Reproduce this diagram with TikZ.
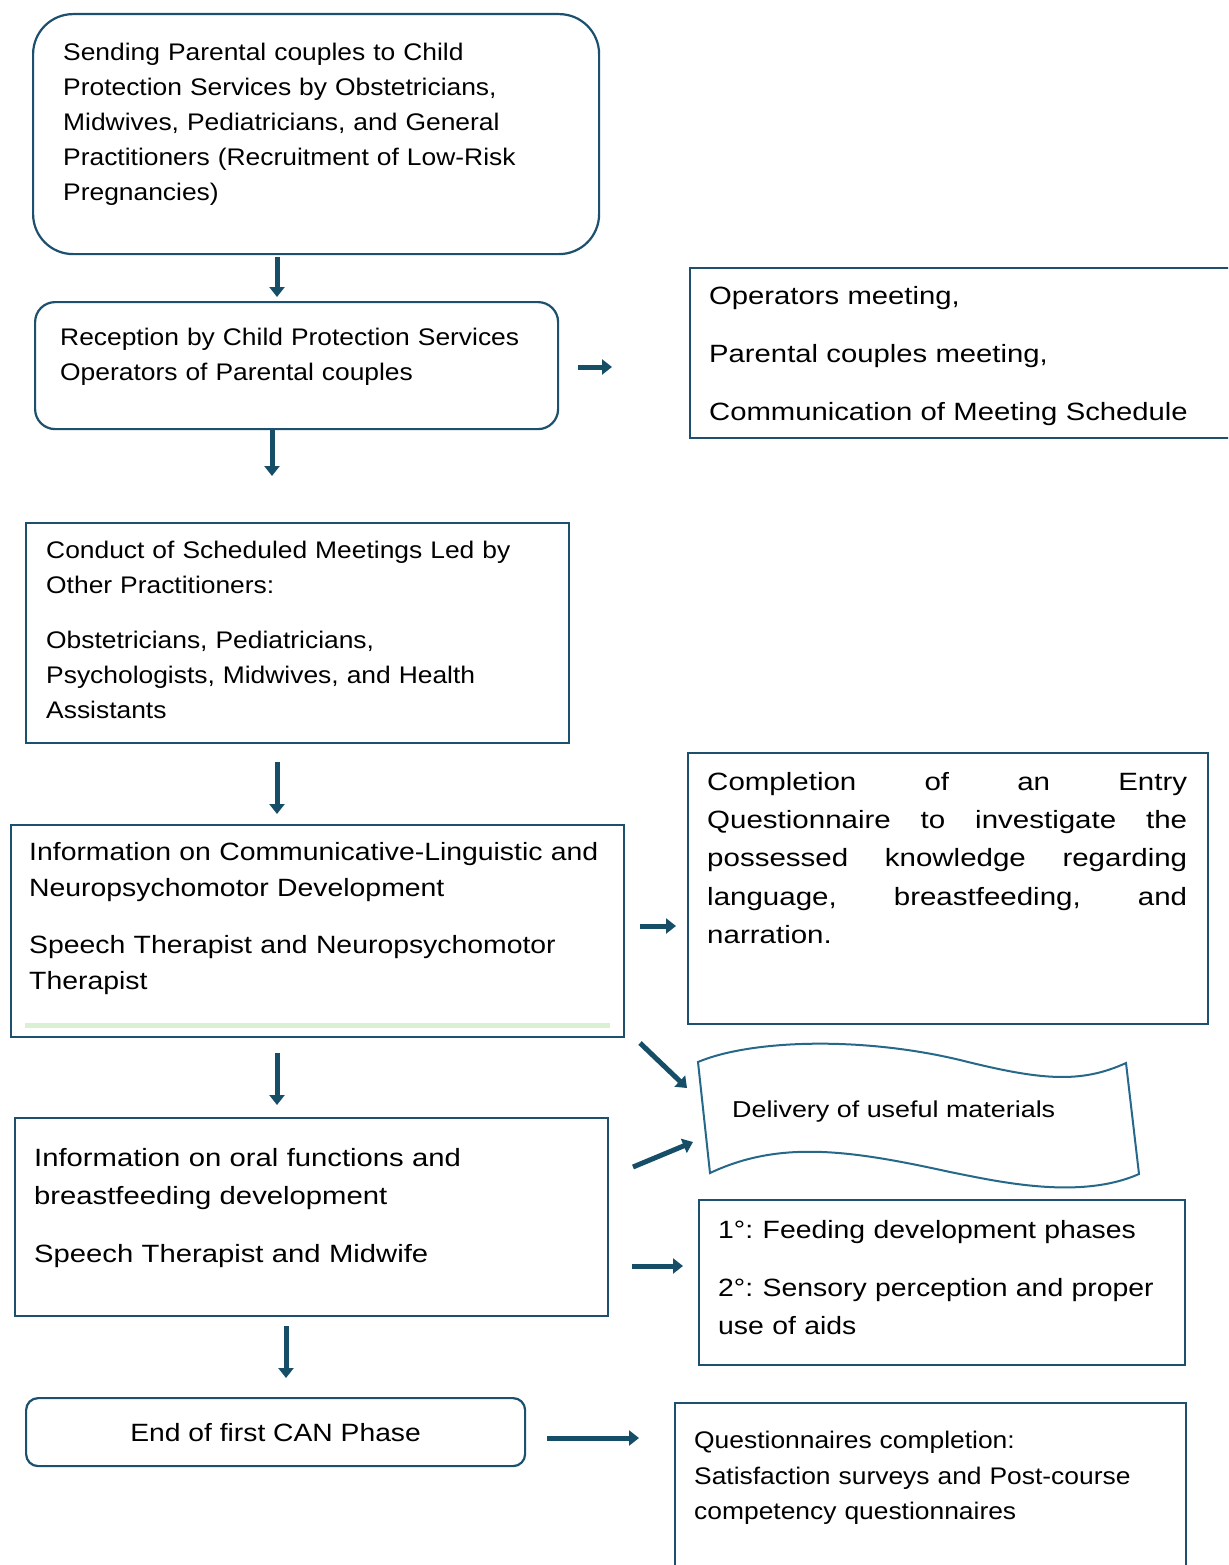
\documentclass[tikz,border=0pt]{standalone}
\usepackage{fontspec}
\setmainfont{Liberation Sans}
\usetikzlibrary{arrows.meta}
\definecolor{bord}{RGB}{28,80,110}
\definecolor{arr}{RGB}{22,78,104}
\definecolor{wav}{RGB}{38,104,138}
\definecolor{grn}{RGB}{217,240,211}
\newcommand{\bxfont}[3]{\fontsize{#1}{#2}\selectfont\addfontfeatures{FakeStretch=#3}}
\begin{document}
\begin{tikzpicture}[x=1pt,y=-1pt,
  box/.style={draw=bord, line width=2.2pt, anchor=north west, inner sep=0pt, fill=white},
  txt/.style={anchor=north west, inner sep=0pt, align=left},
  blk/.style={draw=arr, line width=5pt, -{Triangle[length=10pt,width=15pt]}}]
\useasboundingbox (0,0) rectangle (1228,1565);
\path[clip] (0,0) rectangle (1228,1565);
\fill[white] (0,0) rectangle (1228,1565);

% box 1
\node[box, rounded corners=40pt, minimum width=566pt, minimum height=240pt] (b1) at (32,13) {};
\node[txt, text width=520pt, font=\bxfont{24}{35}{1.1}] (t1) at (63,43)
 {Sending Parental couples to Child\\Protection Services by Obstetricians,\\Midwives, Pediatricians, and General\\Practitioners (Recruitment of Low-Risk\\Pregnancies)};

% box 2
\node[box, rounded corners=20pt, minimum width=523pt, minimum height=127pt] (b2) at (34,301) {};
\node[txt, text width=480pt, font=\bxfont{24}{35}{1.1}] (t2) at (60,328)
 {Reception by Child Protection Services\\Operators of Parental couples};

% box 3
\node[box, minimum width=560pt, minimum height=170pt] (b3) at (689,267) {};
\node[txt, text width=520pt, font=\bxfont{25}{58}{1.17}] (t3) at (709,286)
 {Operators meeting,\\Parental couples meeting,\\Communication of Meeting Schedule};

% box 4
\node[box, minimum width=543pt, minimum height=220pt] (b4) at (25,522) {};
\node[txt, text width=510pt, font=\bxfont{24}{35}{1.1}] (t4) at (46,541)
 {Conduct of Scheduled Meetings Led by\\Other Practitioners:\\[20pt]Obstetricians, Pediatricians,\\Psychologists, Midwives, and Health\\Assistants};

% box 5
\node[box, minimum width=613pt, minimum height=212pt] (b5) at (10,824) {};
\draw[grn, line width=5pt] ([xshift=15pt,yshift=13pt]b5.south west) -- ([xshift=-15pt,yshift=13pt]b5.south east);
\node[txt, text width=595pt, font=\bxfont{25}{36}{1.135}] (t5) at (29,842)
 {Information on Communicative-Linguistic and\\Neuropsychomotor Development\\[21pt]Speech Therapist and Neuropsychomotor\\Therapist};

% box 6
\node[box, minimum width=520pt, minimum height=271pt] (b6) at (687,752) {};
\node[txt, text width=480pt, font=\bxfont{25}{38.3}{1.18}] (t6) at (707,772)
 {\makebox[480pt]{Completion\hfill of\hfill an\hfill Entry}\\\makebox[480pt]{Questionnaire\hfill to\hfill investigate\hfill the}\\\makebox[480pt]{possessed\hfill knowledge\hfill regarding}\\\makebox[480pt]{language,\hfill breastfeeding,\hfill and}\\narration.};

% wave
\coordinate (w1) at (698,1062);
\coordinate (w2) at (1126,1063);
\coordinate (w3) at (1139,1174);
\coordinate (w4) at (710,1173);
\draw[wav, line width=2pt, fill=white] (w1) .. controls (750,1040) and (860,1036) .. (960,1060)
  .. controls (1040,1080) and (1080,1084) .. (w2) -- (w3)
  .. controls (1080,1200) and (1000,1182) .. (950,1172)
  .. controls (850,1150) and (780,1140) .. (w4) -- cycle;
\node[txt, font=\bxfont{23}{30}{1.17}] (tw) at (732,1101) {Delivery of useful materials};

% box 7
\node[box, minimum width=593pt, minimum height=198pt] (b7) at (14,1117) {};
\node[txt, text width=570pt, font=\bxfont{25}{38}{1.17}] (t7) at (34,1148)
 {Information on oral functions and\\breastfeeding development\\[20pt]Speech Therapist and Midwife};

% box 8
\node[box, minimum width=486pt, minimum height=165pt] (b8) at (698,1199) {};
\node[txt, text width=470pt, font=\bxfont{25}{38}{1.135}] (t8) at (718,1220)
 {1°:\kern-3pt{} Feeding development phases\\[20pt]2°:\kern-3pt{} Sensory perception and proper\\use of aids};

% box 9
\node[box, rounded corners=12pt, minimum width=499pt, minimum height=68pt, font=\bxfont{25}{30}{1.13}] (b9) at (25,1397) {End of first CAN Phase};

% box 10
\node[box, minimum width=511pt, minimum height=200pt] (b10) at (674,1402) {};
\node[txt, text width=490pt, font=\bxfont{24}{35.5}{1.1}] (t10) at (694,1431)
 {Questionnaires completion:\\Satisfaction surveys and Post-course\\competency questionnaires};

% arrows
\coordinate (a1s) at (277,257); \coordinate (a1e) at (277,297);
\coordinate (a2s) at (578,367); \coordinate (a2e) at (612,367);
\coordinate (a3s) at (272,430); \coordinate (a3e) at (272,476);
\coordinate (a4s) at (277,762); \coordinate (a4e) at (277,814);
\coordinate (a5s) at (640,926); \coordinate (a5e) at (676,926);
\coordinate (a6s) at (640,1043); \coordinate (a6e) at (687,1088);
\coordinate (a7s) at (633,1167); \coordinate (a7e) at (693,1142);
\coordinate (a8s) at (277,1053); \coordinate (a8e) at (277,1105);
\coordinate (a9s) at (632,1266); \coordinate (a9e) at (683,1266);
\coordinate (a10s) at (286,1326); \coordinate (a10e) at (286,1378);
\coordinate (a11s) at (547,1438); \coordinate (a11e) at (639,1438);
\foreach \s/\e in {a1s/a1e,a2s/a2e,a3s/a3e,a4s/a4e,a5s/a5e,a6s/a6e,a7s/a7e,a8s/a8e,a9s/a9e,a10s/a10e,a11s/a11e}
  \draw[blk] (\s) -- (\e);
\end{tikzpicture}
\end{document}
